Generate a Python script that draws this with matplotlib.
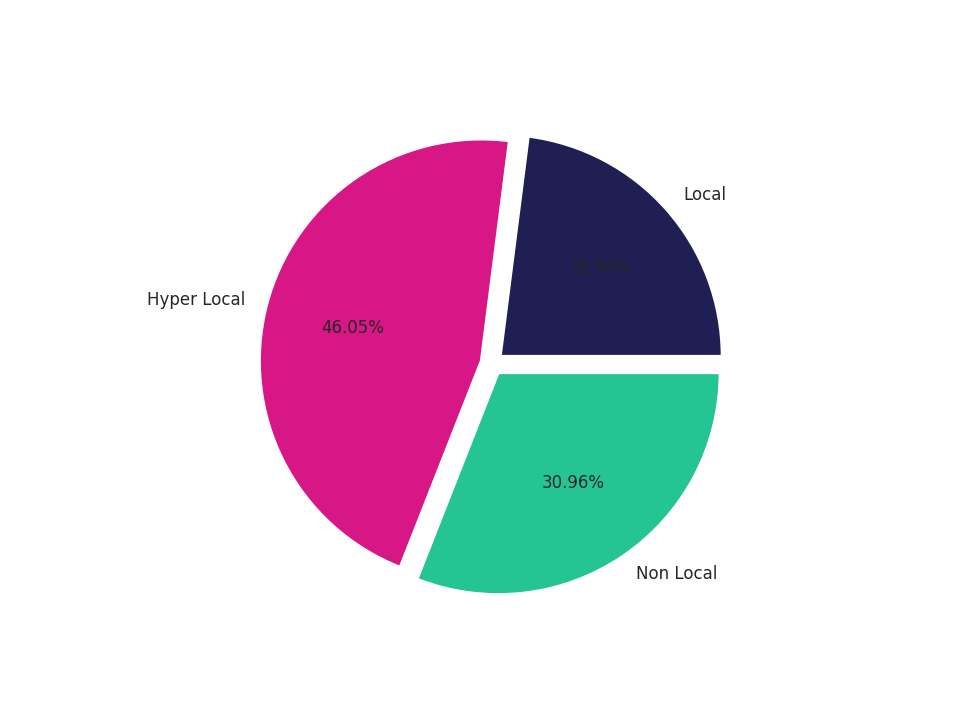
import matplotlib
matplotlib.use("Agg")
import matplotlib.pyplot as plt

categories = ["Local", "Hyper Local", "Non Local"]
values = [22.98, 46.05, 30.96]
colors = ["#1f1f54", "#d81786", "#25c493"]

plt.rcParams['font.family'] = ['DejaVu Sans']
fig, ax = plt.subplots(figsize=(9.6, 7.2), dpi=100)
wedges, texts, autotexts = ax.pie(values, labels=categories, colors=colors,
                                  autopct='%.2f%%', startangle=0,
                                  explode=[0.05, 0.05, 0.05],
                                  wedgeprops={'edgecolor': 'white', 'linewidth': 2},
                                  textprops={'fontsize': 12, 'color': '#262626'})
fig.savefig("out.png", dpi=100)
